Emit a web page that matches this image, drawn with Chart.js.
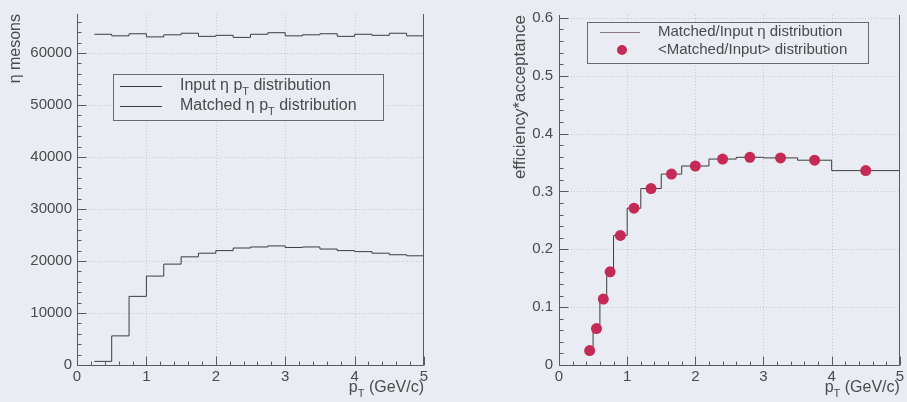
<!DOCTYPE html>
<html>
<head>
<meta charset="utf-8">
<script src="https://cdn.jsdelivr.net/npm/chart.js@4.4.0/dist/chart.umd.min.js"></script>
<style>
  html, body { margin: 0; padding: 0; background: #e9ecf2; }
  #wrap { position: relative; width: 907px; height: 402px; overflow: hidden; background: #e9ecf2; }
  .pane { position: absolute; top: 0; height: 402px; }
  #left { left: 0; width: 453px; }
  #right { left: 453px; width: 454px; }
</style>
</head>
<body>
<div id="wrap">
  <div class="pane" id="left"><canvas id="cL" width="453" height="402"></canvas></div>
  <div class="pane" id="right"><canvas id="cR" width="454" height="402"></canvas></div>
</div>
<script>
// ---- η spectra: pT bin edges (GeV/c) and counts per bin ----
const ptEdges = [0.25, 0.5, 0.75, 1.0, 1.25, 1.5, 1.75, 2.0, 2.25, 2.5, 2.75, 3.0, 3.25, 3.5, 3.75, 4.0, 4.25, 4.5, 4.75, 5.0];
const inputCounts = [63600, 63300, 63700, 63100, 63500, 63800, 63200, 63400, 63000, 63600, 63900, 63300, 63500, 63700, 63200, 63600, 63400, 63800, 63300];
const matchedCounts = [700, 5600, 13200, 17100, 19400, 20800, 21500, 22000, 22500, 22700, 22900, 22600, 22700, 22300, 22000, 21800, 21500, 21200, 21000];

// ---- efficiency x acceptance in variable pT bins ----
const effEdges = [0.4, 0.5, 0.6, 0.7, 0.8, 1.0, 1.2, 1.5, 1.8, 2.2, 2.6, 3.0, 3.5, 4.0, 5.0];
const effCenters = [0.45, 0.55, 0.65, 0.75, 0.9, 1.1, 1.35, 1.65, 2.0, 2.4, 2.8, 3.25, 3.75, 4.5];
const effValues = [0.025, 0.063, 0.114, 0.161, 0.224, 0.271, 0.305, 0.330, 0.344, 0.356, 0.359, 0.358, 0.354, 0.336];

// ---- axis tick labels ----
const ptTicks = [0, 1, 2, 3, 4, 5];
const countTicks = [0, 10000, 20000, 30000, 40000, 50000, 60000];
const effTicks = [0, 0.1, 0.2, 0.3, 0.4, 0.5, 0.6];

const FONT = "'Liberation Sans', Arial, Helvetica, sans-serif";
const TXT = '#4a4a4a';
const AXIS = '#5a5a5a';
const GRID = 'rgba(110,118,135,0.30)';
const RED = '#c42a55';

// step outline of a histogram: one point per bin edge, last bin repeated at the closing edge
function histPoints(edges, values) {
  return edges.map((e, i) => ({ x: e, y: values[Math.min(i, values.length - 1)] }));
}

// text with an optional lowered subscript part
function richWidth(ctx, parts, size) {
  let w = 0;
  for (const p of parts) {
    ctx.font = (p.sub ? Math.round(size * 0.7) : size) + 'px ' + FONT;
    w += ctx.measureText(p.t).width;
  }
  return w;
}
function drawRich(ctx, parts, x, y, size, color) {
  ctx.save();
  ctx.fillStyle = color;
  ctx.textBaseline = 'middle';
  ctx.textAlign = 'left';
  let cx = x;
  for (const p of parts) {
    const s = p.sub ? Math.round(size * 0.7) : size;
    ctx.font = s + 'px ' + FONT;
    ctx.fillText(p.t, cx, p.sub ? y + size * 0.35 : y);
    cx += ctx.measureText(p.t).width;
  }
  ctx.restore();
}

// frame, dotted grid, inward major/minor ticks and the pT axis title
function framePlugin(cfg) {
  return {
    id: 'frameDecor',
    beforeDatasetsDraw(chart) {
      const { ctx, chartArea: a, scales: { x, y } } = chart;
      ctx.save();
      ctx.strokeStyle = GRID;
      ctx.lineWidth = 1;
      ctx.setLineDash([1, 2]);
      for (const v of ptTicks.slice(1, -1)) {
        const px = Math.round(x.getPixelForValue(v)) + 0.5;
        ctx.beginPath(); ctx.moveTo(px, a.top); ctx.lineTo(px, a.bottom); ctx.stroke();
      }
      for (const v of cfg.yTicks.slice(1)) {
        const py = Math.round(y.getPixelForValue(v)) + 0.5;
        ctx.beginPath(); ctx.moveTo(a.left, py); ctx.lineTo(a.right, py); ctx.stroke();
      }
      ctx.restore();
    },
    afterDatasetsDraw(chart) {
      const { ctx, chartArea: a, scales: { x, y } } = chart;
      ctx.save();
      ctx.strokeStyle = AXIS;
      ctx.lineWidth = 1;
      const L = Math.round(a.left) + 0.5, B = Math.round(a.bottom) + 0.5, R = Math.round(a.right) - 0.5;
      ctx.beginPath();
      ctx.moveTo(L, a.top); ctx.lineTo(L, B); ctx.lineTo(R, B); ctx.lineTo(R, a.top);
      ctx.stroke();
      // x ticks
      for (let i = 0; i <= 25; i++) {
        const v = i * 0.2;
        const px = Math.round(x.getPixelForValue(v)) + 0.5;
        const len = (i % 5 === 0) ? 9 : 4;
        ctx.beginPath(); ctx.moveTo(px, B); ctx.lineTo(px, B - len); ctx.stroke();
      }
      // y ticks
      const n = Math.round(cfg.yTop / cfg.yMinor);
      for (let i = 0; i <= n; i++) {
        const v = i * cfg.yMinor;
        if (v > y.max) break;
        const py = Math.round(y.getPixelForValue(v)) + 0.5;
        const len = (i % 5 === 0) ? 9 : 4;
        ctx.beginPath(); ctx.moveTo(L, py); ctx.lineTo(L + len, py); ctx.stroke();
      }
      ctx.restore();
      // x title: pT (GeV/c), right-aligned to the frame
      const size = 16;
      const parts = [{ t: 'p' }, { t: 'T', sub: true }, { t: ' (GeV/c)' }];
      const w = richWidth(ctx, parts, size);
      drawRich(ctx, parts, a.right - w, 388, size, TXT);
    }
  };
}

// boxed legend drawn inside the frame
function legendPlugin(box, entries) {
  return {
    id: 'boxLegend',
    afterDraw(chart) {
      const ctx = chart.ctx;
      ctx.save();
      ctx.strokeStyle = '#6a6a6a';
      ctx.lineWidth = 1;
      ctx.fillStyle = '#e9ecf2';
      ctx.fillRect(box.x, box.y, box.w, box.h);
      ctx.strokeRect(box.x + 0.5, box.y + 0.5, box.w, box.h);
      for (const e of entries) {
        if (e.kind === 'line') {
          ctx.strokeStyle = e.color;
          ctx.lineWidth = 1;
          ctx.beginPath(); ctx.moveTo(e.sx0, e.y + 0.5); ctx.lineTo(e.sx1, e.y + 0.5); ctx.stroke();
        } else {
          ctx.fillStyle = e.color;
          ctx.beginPath(); ctx.arc((e.sx0 + e.sx1) / 2, e.y, 5, 0, Math.PI * 2); ctx.fill();
        }
        drawRich(ctx, e.parts, e.tx, e.y, e.size, TXT);
      }
      ctx.restore();
    }
  };
}

const common = {
  responsive: false,
  animation: false,
  devicePixelRatio: 1,
  plugins: { legend: { display: false }, tooltip: { enabled: false } }
};

function xScale() {
  return {
    type: 'linear', min: 0, max: 5,
    afterBuildTicks: s => { s.ticks = ptTicks.map(v => ({ value: v })); },
    grid: { display: false, drawTicks: false },
    border: { display: false },
    ticks: { color: TXT, font: { family: FONT, size: 15 }, padding: 3, maxRotation: 0, autoSkip: false, callback: v => String(v) },
    afterFit: s => { s.height = 37; }
  };
}

// ---- left: η pT spectra ----
new Chart(document.getElementById('cL'), {
  type: 'line',
  data: {
    datasets: [
      { label: 'Input η pT distribution', data: histPoints(ptEdges, inputCounts), stepped: 'before',
        borderColor: '#3c3c3c', borderWidth: 1, pointRadius: 0, fill: false },
      { label: 'Matched η pT distribution', data: histPoints(ptEdges, matchedCounts), stepped: 'before',
        borderColor: '#3c3c3c', borderWidth: 1, pointRadius: 0, fill: false }
    ]
  },
  options: Object.assign({}, common, {
    layout: { padding: { top: 14, right: 29, left: 0, bottom: 0 } },
    scales: {
      x: xScale(),
      y: {
        type: 'linear', min: 0, max: 67500,
        afterBuildTicks: s => { s.ticks = countTicks.map(v => ({ value: v })); },
        grid: { display: false, drawTicks: false },
        border: { display: false },
        ticks: { color: TXT, font: { family: FONT, size: 15 }, padding: 5, callback: v => String(v) },
        title: { display: true, text: 'η mesons', align: 'end', color: TXT, font: { family: FONT, size: 16 }, padding: { top: 6, bottom: 0 } },
        afterFit: s => { s.width = 77; }
      }
    }
  }),
  plugins: [
    framePlugin({ yTicks: countTicks, yMinor: 2000, yTop: 66000 }),
    legendPlugin({ x: 113, y: 74, w: 270, h: 46 }, [
      { kind: 'line', color: '#3c3c3c', sx0: 120, sx1: 162, y: 86, tx: 180, size: 16,
        parts: [{ t: 'Input η p' }, { t: 'T', sub: true }, { t: ' distribution' }] },
      { kind: 'line', color: '#3c3c3c', sx0: 120, sx1: 162, y: 106, tx: 180, size: 16,
        parts: [{ t: 'Matched η p' }, { t: 'T', sub: true }, { t: ' distribution' }] }
    ])
  ]
});

// ---- right: efficiency x acceptance ----
new Chart(document.getElementById('cR'), {
  type: 'line',
  data: {
    datasets: [
      { label: 'Matched/Input η distribution', data: histPoints(effEdges, effValues), stepped: 'before',
        borderColor: '#3c3c3c', borderWidth: 1, pointRadius: 0, fill: false, order: 2 },
      { label: '<Matched/Input> distribution', data: effCenters.map((c, i) => ({ x: c, y: effValues[i] })),
        showLine: false, pointRadius: 5.5, pointStyle: 'circle', pointBackgroundColor: RED,
        pointBorderColor: RED, pointBorderWidth: 0, order: 1 }
    ]
  },
  options: Object.assign({}, common, {
    layout: { padding: { top: 12, right: 7, left: 50, bottom: 0 } },
    scales: {
      x: xScale(),
      y: {
        type: 'linear', min: 0, max: 0.605,
        afterBuildTicks: s => { s.ticks = effTicks.map(v => ({ value: v })); },
        grid: { display: false, drawTicks: false },
        border: { display: false },
        ticks: { color: TXT, font: { family: FONT, size: 15 }, padding: 6, callback: v => (v === 0 ? '0' : v.toFixed(1)) },
        title: { display: true, text: 'efficiency*acceptance', align: 'end', color: TXT, font: { family: FONT, size: 17 }, padding: { top: 7, bottom: 0 } },
        afterFit: s => { s.width = 56; }
      }
    }
  }),
  plugins: [
    framePlugin({ yTicks: effTicks, yMinor: 0.02, yTop: 0.6 }),
    legendPlugin({ x: 134, y: 22, w: 281, h: 41 }, [
      { kind: 'line', color: '#8a7a82', sx0: 147, sx1: 187, y: 32, tx: 205, size: 15,
        parts: [{ t: 'Matched/Input η distribution' }] },
      { kind: 'marker', color: RED, sx0: 162, sx1: 176, y: 50, tx: 205, size: 15,
        parts: [{ t: '<Matched/Input> distribution' }] }
    ])
  ]
});
</script>
</body>
</html>
